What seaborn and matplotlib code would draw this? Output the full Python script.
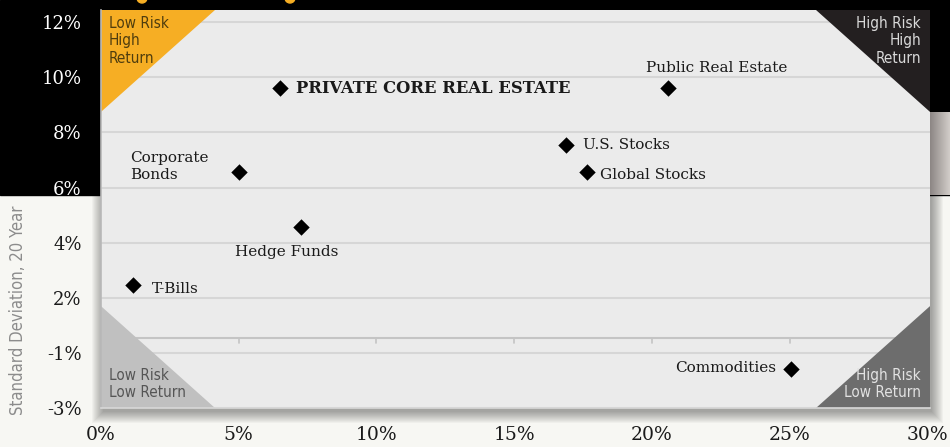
import matplotlib
matplotlib.use("Agg")
import matplotlib.pyplot as plt
from matplotlib.patches import Polygon, Rectangle, Ellipse
import numpy as np
import pandas as pd
import seaborn as sns

# data
assets = ["PRIVATE CORE REAL ESTATE", "Public Real Estate", "U.S. Stocks",
          "Global Stocks", "Corporate\nBonds", "Hedge Funds", "T-Bills", "Commodities"]
risk = [6.5, 20.6, 16.9, 17.65, 5.0, 7.25, 1.15, 25.05]
ret = [9.6, 9.6, 7.56, 6.58, 6.58, 4.55, 2.47, -0.58]

x_ticks = [0, 5, 10, 15, 20, 25, 30]
x_tick_labels = ["0%", "5%", "10%", "15%", "20%", "25%", "30%"]
y_ticks = [-2, 0, 2, 4, 6, 8, 10, 12]
y_tick_labels = ["-3%", "-1%", "2%", "4%", "6%", "8%", "10%", "12%"]

# label placement (pixel offsets from the marker)
label_pos = {
    "PRIVATE CORE REAL ESTATE": (16, 0, "left"),
    "Public Real Estate": (-22, 20, "left"),
    "U.S. Stocks": (17, 0, "left"),
    "Global Stocks": (13, -3, "left"),
    "Corporate\nBonds": (-30, 5, "right"),
    "Hedge Funds": (-14, -25, "center"),
    "T-Bills": (19, -4, "left"),
    "Commodities": (-15, 1, "right"),
}

sns.set_style("white")
plt.rcParams["font.family"] = ["DejaVu Serif"]

W, H = 950, 447
fig = plt.figure(figsize=(W / 100, H / 100), dpi=100)
fig.patch.set_facecolor("#f7f7f3")

L, R, B, T = 101 / W, 930 / W, 1 - 408 / H, 1 - 10 / H
ax = fig.add_axes([L, B, R - L, T - B])

# black upper band
fig.add_artist(Rectangle((0, 1 - 195 / H), 1, 195 / H, transform=fig.transFigure,
                         color="black", zorder=-10))
# soft shadow of the panel
for i in range(1, 13):
    fig.add_artist(Rectangle((L - (i - 3) / W, B - (i + 3) / H),
                             (R - L) + (2 * i - 2) / W, (T - B) + (i) / H,
                             transform=fig.transFigure, color="black",
                             alpha=0.03, lw=0, zorder=-5))
# grey gradient strip on the right of the black band
gax = fig.add_axes([R, 1 - 195 / H, 1 - R, 83 / H], zorder=-4)
gax.imshow(np.linspace(0, 1, 50).reshape(1, -1), cmap=matplotlib.colors.LinearSegmentedColormap.from_list(
    "g", ["#8c8684", "#d2cdc9"]), aspect="auto")
gax.axis("off")
# orange marks cut at the top edge
for cx in [142, 290]:
    fig.add_artist(Ellipse((cx / W, 1 + 2 / H), 10 / W, 10 / H, transform=fig.transFigure,
                           color="#f6ae24", zorder=-3))

df = pd.DataFrame({"asset": assets, "risk": risk, "ret": ret})

ax.set_facecolor("#ebebeb")
ax.set_axisbelow(True)
ax.yaxis.grid(True, color="#d6d6d6", lw=1.5)
ax.xaxis.grid(False)

sns.scatterplot(data=df, x="risk", y="ret", marker="D", color="black", s=70,
                edgecolor="black", linewidth=0, ax=ax, zorder=5, legend=False)

ax.set_xlim(0, 30.1)
ax.set_ylim(-2, 12.44)
ax.set_xticks(x_ticks)
ax.set_xticklabels(x_tick_labels)
ax.set_yticks(y_ticks)
ax.set_yticklabels(y_tick_labels)
ax.set_xlabel("")
ax.set_ylabel("")
ax.tick_params(axis="x", length=0, pad=13, labelsize=13.5, labelcolor="#1a1a1a")
ax.tick_params(axis="y", length=4, width=1.2, color="#bcbcbc", pad=10, labelsize=13)
for lbl, v in zip(ax.get_yticklabels(), y_ticks):
    lbl.set_color("white" if v >= 6 else "#1a1a1a")

for side in ["top", "right"]:
    ax.spines[side].set_visible(False)
ax.spines["left"].set_color("#b8b8b8")
ax.spines["left"].set_linewidth(1.2)
ax.spines["bottom"].set_color("#d8d8d8")
ax.spines["bottom"].set_linewidth(1.2)

# inner baseline with small ticks
base_y = 0.55
ax.axhline(base_y, color="#c4c4c4", lw=1.5, zorder=0.8)
for xt in x_ticks[1:-1]:
    ax.plot([xt, xt], [base_y, base_y - 0.2], color="#c4c4c4", lw=1.2, zorder=0.8)

# corner triangles
hx, hy = 0.1375, 0.256
corners = [
    ([(0, 1), (hx, 1), (0, 1 - hy)], "#f6ae24"),
    ([(1, 1), (1 - hx, 1), (1, 1 - hy)], "#231f20"),
    ([(0, 0), (hx, 0), (0, hy)], "#c0c0c0"),
    ([(1, 0), (1 - hx, 0), (1, hy)], "#6d6d6d"),
]
for pts, c in corners:
    ax.add_patch(Polygon(pts, closed=True, transform=ax.transAxes, color=c, lw=0, zorder=1.5))

cond = dict(family="DejaVu Sans", stretch="condensed", fontsize=11, linespacing=1.2, zorder=2)
ax.text(0.0097, 0.985, "Low Risk\nHigh\nReturn", transform=ax.transAxes, ha="left", va="top",
        color="#4f3d0e", **cond)
ax.text(0.989, 0.985, "High Risk\nHigh\nReturn", transform=ax.transAxes, ha="right", va="top",
        multialignment="right", color="#d9d9d9", **cond)
ax.text(0.0097, 0.02, "Low Risk\nLow Return", transform=ax.transAxes, ha="left", va="bottom",
        color="#555555", **cond)
ax.text(0.989, 0.02, "High Risk\nLow Return", transform=ax.transAxes, ha="right", va="bottom",
        multialignment="right", color="#e2e2e2", **cond)

for name, x, y in zip(assets, risk, ret):
    dx, dy, ha = label_pos[name]
    bold = name.isupper()
    ax.annotate(name, (x, y), xytext=(dx, dy), textcoords="offset pixels", ha=ha, va="center",
                multialignment="left", fontsize=11.8 if bold else 11, color="#1a1a1a",
                linespacing=1.35, fontweight="bold" if bold else "normal", zorder=6)

fig.text(18 / W, 1 - 310 / H, "Standard Deviation, 20 Year", rotation=90, ha="center",
         va="center", color="#8c8c8c", family="DejaVu Sans", stretch="condensed", fontsize=12)

fig.savefig("out.png", dpi=100, facecolor=fig.get_facecolor())
plt.close(fig)
